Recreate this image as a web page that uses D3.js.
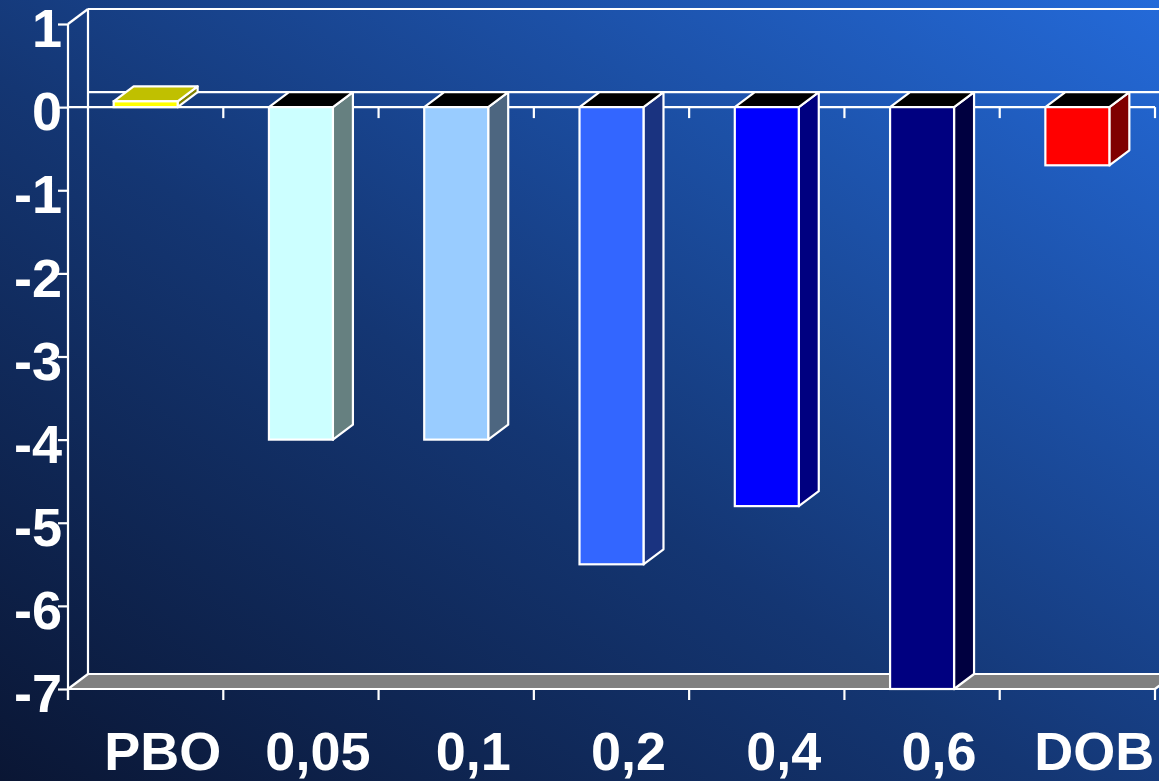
<!DOCTYPE html>
<html><head><meta charset="utf-8">
<script src="https://cdn.jsdelivr.net/npm/d3@7"></script>
<style>html,body{margin:0;padding:0;overflow:hidden;background:#0c1a3a}</style>
</head><body>
<svg id="chart" width="1159" height="781"></svg>
<script>
const categories = ["PBO", "0,05", "0,1", "0,2", "0,4", "0,6", "DOB"];
const values = [0.07, -4.0, -4.0, -5.5, -4.8, -7.0, -0.7];
const frontColors = ["#ffff00", "#ccffff", "#99ccff", "#3366ff", "#0000ff", "#000080", "#ff0000"];
const sideColors  = ["#808000", "#668080", "#4d6680", "#1a3380", "#000080", "#000040", "#800000"];
const topColors   = ["#c0c000", "#000000", "#000000", "#000000", "#000000", "#000000", "#000000"];
const yTicks = [1, 0, -1, -2, -3, -4, -5, -6, -7];

const W = 1159, H = 781;
const DX = 20, DY = -15;
const svg = d3.select("#chart");

// background gradient
const defs = svg.append("defs");
const g = defs.append("linearGradient").attr("id", "bg")
  .attr("x1", 0).attr("y1", 1).attr("x2", 1).attr("y2", 0);
g.append("stop").attr("offset", "0").attr("stop-color", "#0a1634");
g.append("stop").attr("offset", "0.45").attr("stop-color", "#143673");
g.append("stop").attr("offset", "1").attr("stop-color", "#246ad9");
svg.append("rect").attr("width", W).attr("height", H).attr("fill", "url(#bg)");

const x = d3.scaleBand().domain(categories).range([68, 1155])
  .paddingInner(0.588).paddingOuter(0.294);
const y = d3.scaleLinear().domain([-7, 1]).range([689, 24]);

const line = "#ffffff", sw = 2.2;
const x0 = x.range()[0], x1 = x.range()[1];
const step = x.step();
const yTop = y(1), yBot = y(-7), yZero = y(0);

// back wall lines
svg.append("line").attr("x1", x0 + DX).attr("x2", x0 + DX).attr("y1", yTop + DY).attr("y2", yBot + DY)
  .attr("stroke", line).attr("stroke-width", sw);
svg.append("line").attr("x1", x0 + DX).attr("x2", W + 30).attr("y1", yTop + DY).attr("y2", yTop + DY)
  .attr("stroke", line).attr("stroke-width", sw);
// left wall diagonal
svg.append("line").attr("x1", x0).attr("y1", yTop).attr("x2", x0 + DX).attr("y2", yTop + DY)
  .attr("stroke", line).attr("stroke-width", sw);

// floor
svg.append("path")
  .attr("d", `M${x0},${yBot} L${x0 + DX},${yBot + DY} L${x1 + DX},${yBot + DY} L${x1},${yBot} Z`)
  .attr("fill", "#808080").attr("stroke", line).attr("stroke-width", sw).attr("stroke-linejoin", "round");

// zero plane lines
svg.append("line").attr("x1", x0 + DX).attr("x2", W + 30).attr("y1", yZero + DY).attr("y2", yZero + DY)
  .attr("stroke", line).attr("stroke-width", sw);
svg.append("line").attr("x1", x0).attr("x2", x1).attr("y1", yZero).attr("y2", yZero)
  .attr("stroke", line).attr("stroke-width", sw);

// category boundary ticks
const bounds = d3.range(categories.length + 1).map(i => x0 + i * step);
svg.selectAll(".tb").data(bounds).join("line")
  .attr("x1", d => d).attr("x2", d => d).attr("y1", yBot).attr("y2", yBot + 11)
  .attr("stroke", line).attr("stroke-width", sw);
svg.selectAll(".tz").data(bounds.slice(1)).join("line")
  .attr("x1", d => d).attr("x2", d => d).attr("y1", yZero).attr("y2", yZero + 11)
  .attr("stroke", line).attr("stroke-width", sw);

// y axis
const yAxis = svg.append("g").attr("transform", `translate(${x0},0)`)
  .call(d3.axisLeft(y).tickValues(yTicks).tickSize(10).tickFormat(d3.format("d")));
yAxis.select(".domain").attr("d", `M-0,${yTop}V${yBot + 11}`).attr("stroke", line).attr("stroke-width", sw);
yAxis.selectAll(".tick line").attr("stroke", line).attr("stroke-width", sw);
yAxis.selectAll(".tick text")
  .attr("x", -6).attr("dy", "0.42em")
  .attr("fill", "#fff").attr("font-family", "'Liberation Sans', Arial, sans-serif")
  .attr("font-weight", "bold").attr("font-size", 54)
  .text(d => d < 0 ? "-" + Math.abs(d) : d);

// bars
const data = categories.map((c, i) => ({c, v: values[i], i}));
const bars = svg.selectAll(".bar").data(data).join("g").attr("class", "bar");
bars.each(function(d) {
  const s = d3.select(this);
  const bx = x(d.c), bw = x.bandwidth();
  const yt = y(Math.max(0, d.v)), yb = y(Math.min(0, d.v));
  s.append("path")
    .attr("d", `M${bx + bw},${yt} L${bx + bw + DX},${yt + DY} L${bx + bw + DX},${yb + DY} L${bx + bw},${yb} Z`)
    .attr("fill", sideColors[d.i]).attr("stroke", line).attr("stroke-width", sw).attr("stroke-linejoin", "round");
  s.append("path")
    .attr("d", `M${bx},${yt} L${bx + DX},${yt + DY} L${bx + bw + DX},${yt + DY} L${bx + bw},${yt} Z`)
    .attr("fill", topColors[d.i]).attr("stroke", line).attr("stroke-width", sw).attr("stroke-linejoin", "round");
  s.append("rect").attr("x", bx).attr("y", yt).attr("width", bw).attr("height", yb - yt)
    .attr("fill", frontColors[d.i]).attr("stroke", line).attr("stroke-width", sw);
});

// category labels
svg.selectAll(".cl").data(categories).join("text")
  .attr("x", d => x(d) + x.bandwidth() / 2 + 17).attr("y", 770)
  .attr("text-anchor", "middle").attr("fill", "#fff")
  .attr("font-family", "'Liberation Sans', Arial, sans-serif")
  .attr("font-weight", "bold").attr("font-size", 54)
  .text(d => d);
</script>
</body></html>
